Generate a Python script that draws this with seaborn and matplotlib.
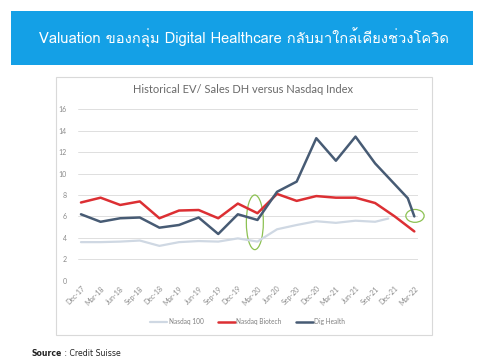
import matplotlib
matplotlib.use("Agg")
import matplotlib.pyplot as plt
from matplotlib import font_manager
from matplotlib.patches import Rectangle, Ellipse
from matplotlib.ft2font import FT2Font
import seaborn as sns
import pandas as pd

# quarter labels, x as months from Dec-17
tick_labels = ['Dec-17', 'Mar-18', 'Jun-18', 'Sep-18', 'Dec-18', 'Mar-19', 'Jun-19',
               'Sep-19', 'Dec-19', 'Mar-20', 'Jun-20', 'Sep-20', 'Dec-20', 'Mar-21',
               'Jun-21', 'Sep-21', 'Dec-21', 'Mar-22']
tick_months = [3 * i for i in range(len(tick_labels))]

ndx_months = [0, 3, 6, 9, 12, 15, 18, 21, 24, 27, 30, 33, 36, 39, 42, 45, 47]
ndx_vals = [3.6, 3.6, 3.65, 3.75, 3.25, 3.6, 3.7, 3.65, 3.95, 3.65, 4.8, 5.2,
            5.55, 5.4, 5.6, 5.5, 5.8]

nbi_months = tick_months
nbi_vals = [7.3, 7.75, 7.07, 7.4, 5.83, 6.55, 6.6, 5.83, 7.2, 6.3, 8.1, 7.45,
            7.9, 7.75, 7.75, 7.25, 6.0, 4.6]

dig_months = [0, 3, 6, 9, 12, 15, 18, 21, 24, 27, 30, 33, 36, 39, 42, 45, 48, 50, 51]
dig_vals = [6.2, 5.5, 5.83, 5.9, 4.95, 5.2, 5.9, 4.36, 6.2, 5.67, 8.3, 9.25,
            13.3, 11.2, 13.45, 10.95, 9.0, 7.7, 6.0]

W, H = 483, 362

# pick a font that can show Thai, if one is installed
thai_fonts = []
for f in font_manager.fontManager.ttflist:
    try:
        if 0x0E01 in FT2Font(f.fname).get_charmap():
            thai_fonts.append(f.name)
    except Exception:
        pass
banner_family = list(dict.fromkeys(thai_fonts)) + ['DejaVu Sans']

sns.set_theme(style='white')
plt.rcParams['font.family'] = ['Lato', 'DejaVu Sans']

fig = plt.figure(figsize=(W / 100, H / 100), dpi=100)
fig.patch.set_facecolor('white')


def box(x0, y0, x1, y1, **kw):
    fig.add_artist(Rectangle((x0 / W, 1 - y1 / H), (x1 - x0) / W, (y1 - y0) / H,
                             transform=fig.transFigure, zorder=-5, **kw))


# header banner
box(11, 11, 473, 64.5, facecolor='#14a0e6', edgecolor='none')
fig.text(39 / W, 1 - 38 / H, 'Valuation ของกลุ่ม Digital Healthcare กลับมาใกล้เคียงช่วงโควิด',
         color='white', fontsize=10.6, va='center', ha='left', family=banner_family)

# chart frame
box(56, 76.7, 432, 335, facecolor='white', edgecolor='#d9d9d9', linewidth=0.8)

ax = fig.add_axes([77.7 / W, 1 - 280.7 / H, (417.6 - 77.7) / W, (280.7 - 109.3) / H])
ax.set_facecolor('none')
ax.set_zorder(2)

df_ndx = pd.DataFrame({'month': ndx_months, 'value': ndx_vals})
df_nbi = pd.DataFrame({'month': nbi_months, 'value': nbi_vals})
df_dig = pd.DataFrame({'month': dig_months, 'value': dig_vals})

sns.lineplot(data=df_ndx, x='month', y='value', ax=ax, color='#cfd8e3', linewidth=1.6,
             label='Nasdaq 100')
sns.lineplot(data=df_nbi, x='month', y='value', ax=ax, color='#dc2f33', linewidth=1.8,
             label='Nasdaq Biotech')
sns.lineplot(data=df_dig, x='month', y='value', ax=ax, color='#475b74', linewidth=1.8,
             label='Dig Health')

ax.set_xlim(-0.5, 51.5)
ax.set_ylim(0, 16)
ax.set_yticks(range(0, 17, 2))
ax.set_xticks(tick_months)
ax.set_xticklabels(tick_labels, rotation=45, ha='right', rotation_mode='anchor')
ax.tick_params(axis='both', labelsize=5, colors='#8a8a8a', length=0)
ax.tick_params(axis='y', pad=8)
ax.tick_params(axis='x', pad=3)
ax.set_xlabel('')
ax.set_ylabel('')
ax.grid(axis='y', color='#d9d9d9', linewidth=0.6)
ax.grid(axis='x', visible=False)
for s in ax.spines.values():
    s.set_visible(False)

# highlight ellipses
ax.add_patch(Ellipse((26.6, 5.45), 2.6, 5.1, fill=False, edgecolor='#8cc152',
                     linewidth=0.9, clip_on=False))
ax.add_patch(Ellipse((51.1, 6.05), 2.8, 1.2, fill=False, edgecolor='#8cc152',
                     linewidth=0.9, clip_on=False))

ax.set_title('Historical EV/ Sales DH versus Nasdaq Index', fontsize=8, color='#6a6a6a',
             pad=12, x=0.487)

ax.legend(loc='center', bbox_to_anchor=(0.5, (321.7 - 280.7) / (109.3 - 280.7)), ncol=3,
          frameon=False, fontsize=4.7, labelcolor='#7f7f7f', handlelength=2.6,
          columnspacing=2.2, handletextpad=0.2)

t1 = fig.text(32 / W, 1 - 354 / H, 'Source', fontsize=5.6, fontweight='bold',
              color='#222222', va='center', family=['DejaVu Sans'])
ax.annotate(' : Credit Suisse', xy=(1, 0.5), xycoords=t1, va='center', ha='left',
            fontsize=5.6, color='#222222', family=['DejaVu Sans'])

fig.savefig('out.png', dpi=100)
